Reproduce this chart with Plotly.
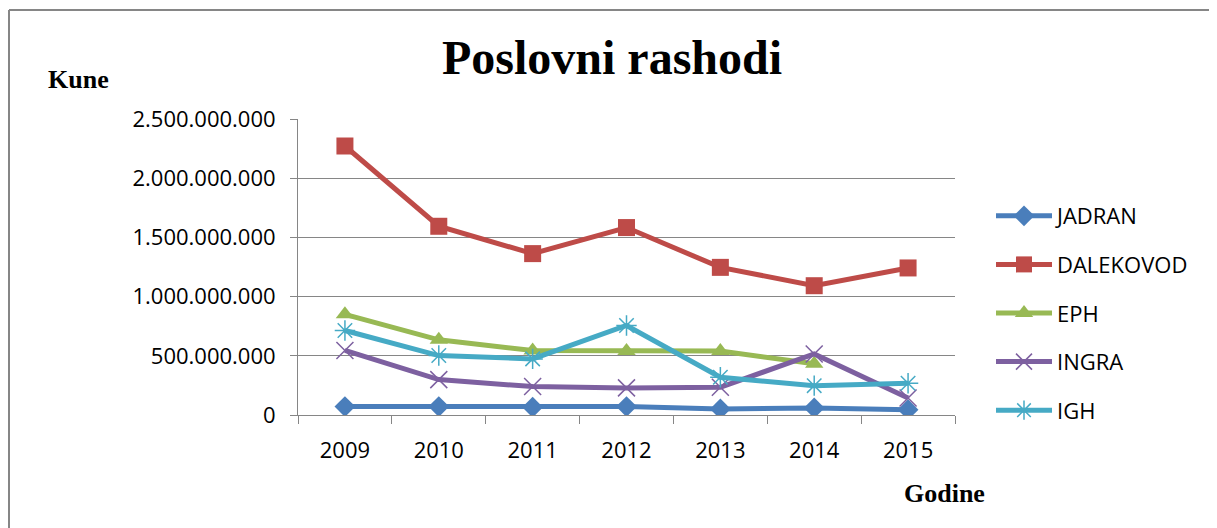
import plotly.graph_objects as go

years = ["2009", "2010", "2011", "2012", "2013", "2014", "2015"]
jadran = [71e6, 71e6, 66e6, 71e6, 51e6, 59e6, 45e6]
dalekovod = [2272e6, 1594e6, 1363e6, 1583e6, 1247e6, 1092e6, 1242e6]
eph = [850e6, 635e6, 545e6, 540e6, 540e6, 432e6, None]
ingra = [545e6, 299e6, 240e6, 229e6, 234e6, 516e6, 144e6]
igh = [714e6, 502e6, 474e6, 756e6, 319e6, 248e6, 268e6]

# page offset of the plot div (default body margin)
OFF = 8
W, H = 1217 - OFF, 528 - OFF
# plot area in window pixels
L, R, T, B = 298, 955, 119, 415
PW, PH = R - L, B - T

def px(x):
    return (x - L) / PW

def py(y):
    return (B - y) / PH

series = [
    ("JADRAN", jadran, "#4A7EBB", dict(symbol="diamond", size=16)),
    ("DALEKOVOD", dalekovod, "#BE4B48", dict(symbol="square", size=17)),
    ("EPH", eph, "#98B954", dict(symbol="triangle-up", size=16)),
    ("INGRA", ingra, "#7D60A0", dict(symbol="x-thin-open", size=17, line=dict(width=1.5))),
    ("IGH", igh, "#46AAC5", dict(symbol="asterisk-open", size=17, line=dict(width=1.5))),
]

fig = go.Figure()
for name, vals, col, mk in series:
    m = dict(mk)
    m["color"] = col
    if "line" in m:
        m["line"] = dict(m["line"], color=col)
    fig.add_trace(go.Scatter(
        x=years, y=vals, name=name, mode="lines+markers",
        line=dict(color=col, width=5), marker=m,
        legendgroup=name, connectgaps=False,
    ))

fig.update_layout(
    width=W, height=H,
    margin=dict(l=L - OFF, r=1217 - R, t=T - OFF, b=528 - B, pad=0),
    paper_bgcolor="white", plot_bgcolor="white",
    separators=",.",
    showlegend=True,
    font=dict(family="Open Sans", size=22, color="black"),
    legend=dict(
        x=px(991), y=py(195), xanchor="left", yanchor="top",
        font=dict(family="Open Sans", size=22, color="black"),
        tracegroupgap=17, itemwidth=56,
        bgcolor="rgba(0,0,0,0)",
    ),
    xaxis=dict(
        type="category", range=[-0.5, 6.5], tickson="boundaries",
        ticks="outside", ticklen=8, tickcolor="#868686", tickwidth=1,
        showline=True, linecolor="#868686", linewidth=1,
        showgrid=False, zeroline=False,
        tickfont=dict(family="Open Sans", size=22, color="black"),
        ticklabelstandoff=16,
    ),
    yaxis=dict(
        range=[0, 2.5e9], dtick=5e8, tickformat=",d",
        ticks="outside", ticklen=7, tickcolor="#868686", tickwidth=1,
        showline=True, linecolor="#868686", linewidth=1,
        showgrid=True, gridcolor="#868686", gridwidth=1,
        zeroline=False,
        tickfont=dict(family="Open Sans", size=22, color="black"),
        ticklabelstandoff=10,
    ),
    shapes=[
        dict(type="line", xref="paper", yref="paper",
             x0=px(9), x1=px(1240), y0=py(10), y1=py(10),
             line=dict(color="#868686", width=2)),
        dict(type="line", xref="paper", yref="paper",
             x0=px(9), x1=px(9), y0=py(10), y1=py(560),
             line=dict(color="#868686", width=2)),
    ],
    annotations=[
        dict(text="<b>Poslovni rashodi</b>", xref="paper", yref="paper",
             x=px(612), y=py(58), xanchor="center", yanchor="middle",
             showarrow=False,
             font=dict(family="Liberation Serif", size=48, color="black")),
        dict(text="<b>Kune</b>", xref="paper", yref="paper",
             x=px(46), y=py(80), xanchor="left", yanchor="middle",
             showarrow=False,
             font=dict(family="Liberation Serif", size=26, color="black")),
        dict(text="<b>Godine</b>", xref="paper", yref="paper",
             x=px(902), y=py(493), xanchor="left", yanchor="middle",
             showarrow=False,
             font=dict(family="Liberation Serif", size=26, color="black")),
    ],
)

fig.write_html("out.html")
